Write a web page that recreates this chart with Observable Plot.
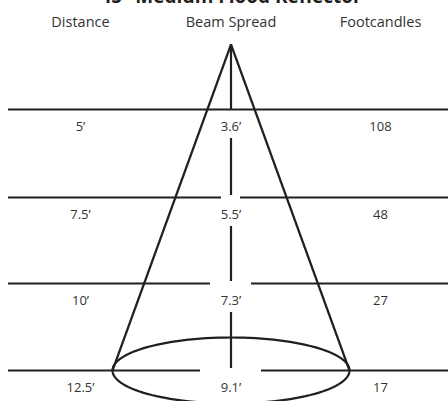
<!DOCTYPE html>
<html>
<head>
<meta charset="utf-8">
<script src="https://cdn.jsdelivr.net/npm/d3@7"></script>
<script src="https://cdn.jsdelivr.net/npm/@observablehq/plot@0.6"></script>
<style>
  html, body { margin: 0; padding: 0; background: #fff; overflow: hidden; }
  svg { display: block; }
</style>
</head>
<body>
<div id="chart"></div>
<script>
// ---- data ----
const title = "45° Medium Flood Reflector";
const headers = ["Distance", "Beam Spread", "Footcandles"];
const distances = ["5’", "7.5’", "10’", "12.5’"];
const beamSpreads = ["3.6’", "5.5’", "7.3’", "9.1’"];
const footcandles = ["108", "48", "27", "17"];

// ---- layout (diagram units = pixels of a 448x401 canvas) ----
const W = 448, H = 401;
const cx = 230.5;                 // centre column
const colX = [80, 230.5, 380];    // column centres
const apexY = 44;
const rowY = [109, 197, 283, 370]; // horizontal rule per row
const gapHalf = [0, 9.5, 20.5, 30.5];
const ink = "#231f20";

const rows = distances.map((d, i) => ({
  distance: d, spread: beamSpreads[i], fc: footcandles[i], i, y: rowY[i]
}));

// horizontal rules (split around the centre label column)
const hSegs = [];
rows.forEach(r => {
  const g = gapHalf[r.i];
  if (g === 0) hSegs.push({x1: 8, x2: W, y: r.y});
  else {
    hSegs.push({x1: 8, x2: cx - g, y: r.y});
    hSegs.push({x1: cx + g, x2: W, y: r.y});
  }
});

// vertical centre axis, interrupted by the beam-spread labels
const vSegs = [];
rows.forEach(r => {
  const top = r.i === 0 ? apexY : rowY[r.i - 1] + 29;
  const bottom = r.i === 0 ? r.y : r.y - 2;
  vSegs.push({x: cx, y1: top, y2: bottom});
});

// cone
const baseY = rowY[rowY.length - 1];
const rx = 118.5, ry = 33;
const cone = [
  {x1: cx, y1: apexY, x2: cx - rx, y2: baseY},
  {x1: cx, y1: apexY, x2: cx + rx, y2: baseY}
];
const ellipse = d3.range(0, 361, 3).map(a => ({
  x: cx + rx * Math.cos(a * Math.PI / 180),
  y: baseY + ry * Math.sin(a * Math.PI / 180)
}));

// labels
const labels = [];
rows.forEach(r => {
  labels.push({x: colX[0], y: r.y + 17, text: r.distance});
  labels.push({x: colX[1], y: r.y + 17, text: r.spread});
  labels.push({x: colX[2], y: r.y + 17, text: r.fc});
});
const headerData = headers.map((h, i) => ({x: colX[i], y: 22, text: h}));

const chart = Plot.plot({
  width: W,
  height: H,
  margin: 0,
  x: {domain: [0, W], range: [0, W], axis: null},
  y: {domain: [0, H], range: [0, H], axis: null},
  style: {fontFamily: "'Open Sans', sans-serif", background: "#fff", overflow: "visible"},
  marks: [
    Plot.ruleY(hSegs, {x1: "x1", x2: "x2", y: "y", stroke: ink, strokeWidth: 2.2}),
    Plot.ruleX(vSegs, {x: "x", y1: "y1", y2: "y2", stroke: ink, strokeWidth: 2.2}),
    Plot.link(cone, {x1: "x1", y1: "y1", x2: "x2", y2: "y2", stroke: ink, strokeWidth: 2.2}),
    Plot.line(ellipse, {x: "x", y: "y", stroke: ink, strokeWidth: 2.2, curve: "linear"}),
    Plot.text(labels, {x: "x", y: "y", text: "text", fontSize: 13, fill: "#333"}),
    Plot.text(headerData, {x: "x", y: "y", text: "text", fontSize: 14.5, fill: "#333"}),
    Plot.text([title], {x: cx, y: 2, text: d => d, fontSize: 19, fontWeight: "bold", fill: ink, lineAnchor: "bottom"})
  ]
});
document.getElementById("chart").appendChild(chart);
</script>
</body>
</html>
